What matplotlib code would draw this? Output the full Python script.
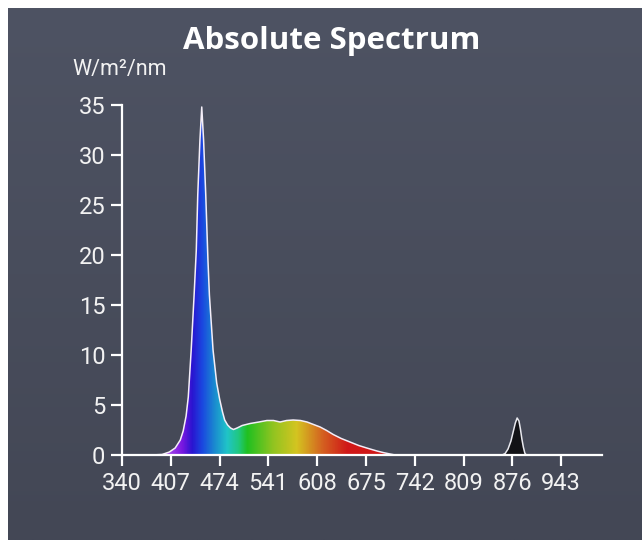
import numpy as np
import matplotlib
matplotlib.use("Agg")
import matplotlib.pyplot as plt
from matplotlib.colors import LinearSegmentedColormap

# ---- data ----
wavelength = [380, 395, 405, 413, 420, 424, 428, 431, 435, 439, 442, 444, 447, 449.5,
              452, 455, 458, 460, 465, 470, 474, 478, 481, 485, 489, 493, 498, 505,
              516, 528, 539, 548, 557, 566, 575, 585, 594, 603, 612, 621, 630, 641,
              653, 665, 676, 690, 700, 708, 715]
irradiance = [0, 0.05, 0.3, 0.7, 1.5, 2.4, 3.9, 5.8, 10.5, 16, 20.5, 26, 31.5, 34.8,
              31.5, 26, 19.5, 16, 10.5, 7.2, 5.6, 4.3, 3.5, 3.0, 2.7, 2.55, 2.7, 2.95,
              3.15, 3.3, 3.45, 3.45, 3.3, 3.45, 3.5, 3.45, 3.3, 3.05, 2.8, 2.45, 2.05,
              1.65, 1.3, 0.95, 0.7, 0.4, 0.22, 0.1, 0]
ir_wavelength = [862, 866, 870, 874, 877, 880, 882.5, 885, 887, 889, 891, 893, 895]
ir_irradiance = [0, 0.15, 0.6, 1.4, 2.3, 3.2, 3.7, 3.4, 2.6, 1.6, 0.8, 0.2, 0]
xticks = [340, 407, 474, 541, 608, 675, 742, 809, 876, 943]
yticks = [0, 5, 10, 15, 20, 25, 30, 35]
title = "Absolute Spectrum"
unit = "W/m\u00b2/nm"

W, H = 642, 540
fig = plt.figure(figsize=(W / 100, H / 100), dpi=100, facecolor="white")

# background gradient (white border on top and left)
bg = fig.add_axes([8 / W, 0, 1 - 8 / W, (H - 8) / H])
bg.axis("off")
top = np.array([0x4e, 0x53, 0x63]) / 255
bot = np.array([0x43, 0x47, 0x55]) / 255
t = np.linspace(0, 1, 256)[:, None]
grad = top[None, :] * (1 - t) + bot[None, :] * t
grad = np.repeat(grad[:, None, :], 2, axis=1)
bg.imshow(grad, aspect="auto", extent=[0, 1, 0, 1])

ax = fig.add_axes([122 / W, 85 / H, 480 / W, 350 / H])
ax.set_facecolor("none")

# rainbow fill clipped to spectrum
anchors = [(380, "#d8a0f0"), (405, "#a040e8"), (422, "#7a18e0"), (436, "#2a14d0"),
           (450, "#1a48e0"), (466, "#1a88d0"), (484, "#20c4c8"), (500, "#20c880"),
           (512, "#20c020"), (547, "#90c420"), (580, "#d4c420"), (616, "#d46020"),
           (650, "#d01818"), (720, "#d01818")]
lo, hi = 380, 720
cmap = LinearSegmentedColormap.from_list(
    "spec", [((w - lo) / (hi - lo), c) for w, c in anchors])
xs = np.linspace(lo, hi, 600)[None, :]
img = ax.imshow(xs, cmap=cmap, vmin=lo, vmax=hi, aspect="auto",
                extent=[lo, hi, 0, 35], origin="lower", zorder=2)
poly = ax.fill(wavelength, irradiance, facecolor="none", edgecolor="none", zorder=2)[0]
img.set_clip_path(poly)
ax.plot(wavelength, irradiance, color="#f4eef8", lw=1.1, zorder=3)

ax.fill(ir_wavelength, ir_irradiance, facecolor="#121216", edgecolor="none", zorder=2)
ax.plot(ir_wavelength, ir_irradiance, color="#e8e8ee", lw=1.1, zorder=3)

ax.set_xlim(340, 999)
ax.set_ylim(0, 35)

for s in ["top", "right"]:
    ax.spines[s].set_visible(False)
for s in ["left", "bottom"]:
    ax.spines[s].set_color("white")
    ax.spines[s].set_linewidth(1.6)
ax.spines["bottom"].set_zorder(4)

ax.set_xticks(xticks)
ax.set_yticks(yticks)
ax.tick_params(colors="white", length=8, width=1.6, labelsize=17, pad=4)
for lab in ax.get_xticklabels() + ax.get_yticklabels():
    lab.set_family("Roboto")
    lab.set_color("#f2f2f2")

fig.text(332 / W, 1 - 41 / H, title, ha="center", va="center", color="white",
         fontsize=22.5, fontweight="bold", family="Open Sans")
fig.text(120 / W, 1 - 70 / H, unit, ha="center", va="center", color="#f2f2f2",
         fontsize=15.5, family="Roboto")

fig.savefig("out.png", dpi=100, facecolor=fig.get_facecolor())
